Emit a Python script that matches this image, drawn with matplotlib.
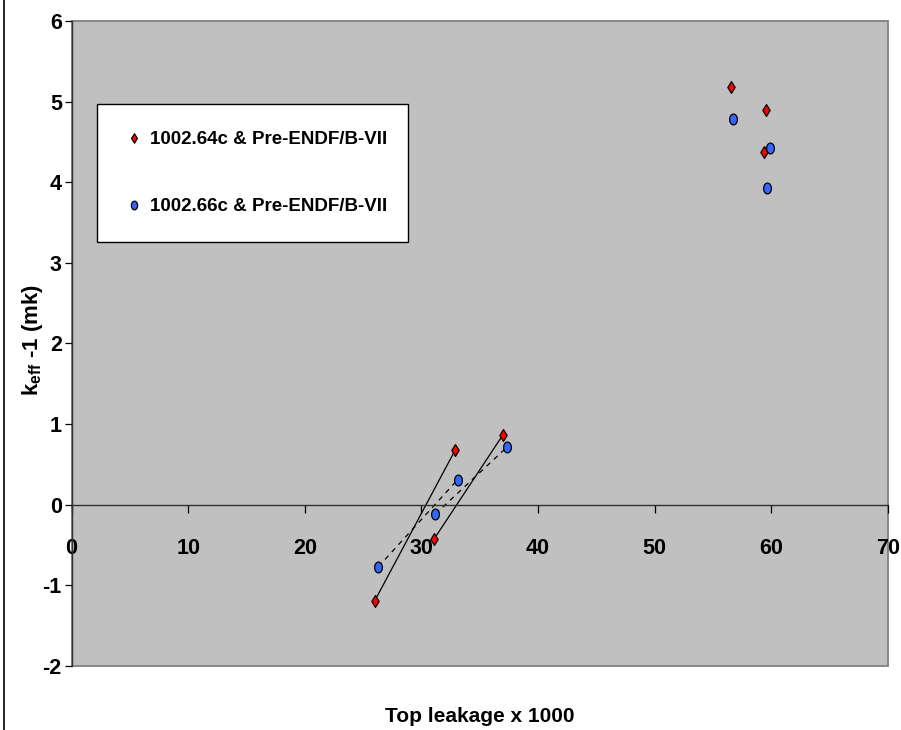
import matplotlib
matplotlib.use("Agg")
import matplotlib.pyplot as plt
from matplotlib.path import Path
from matplotlib.transforms import Affine2D
from matplotlib.patches import Rectangle
from matplotlib.lines import Line2D

plt.rcParams['font.family'] = ['Liberation Sans', 'DejaVu Sans']
plt.rcParams['font.weight'] = 'bold'
plt.rcParams['mathtext.fontset'] = 'custom'
plt.rcParams['mathtext.rm'] = 'Liberation Sans:bold'

# Data
x_red = [26.0, 31.06, 32.9, 37.0, 56.5, 59.5, 59.4]
y_red = [-1.19, -0.43, 0.68, 0.87, 5.18, 4.89, 4.38]
x_blue = [26.3, 31.2, 33.1, 37.3, 56.7, 59.9, 59.6]
y_blue = [-0.77, -0.115, 0.31, 0.71, 4.78, 4.42, 3.93]
line_pairs = [(0, 2), (1, 3)]
label_red = "1002.64c & Pre-ENDF/B-VII"
label_blue = "1002.66c & Pre-ENDF/B-VII"
x_ticks = [0, 10, 20, 30, 40, 50, 60, 70]
y_ticks = [-2, -1, 0, 1, 2, 3, 4, 5, 6]

diamond = Path([(0, 1), (0.62, 0), (0, -1), (-0.62, 0), (0, 1)],
               [Path.MOVETO, Path.LINETO, Path.LINETO, Path.LINETO, Path.CLOSEPOLY])
ellipse = Affine2D().scale(0.72, 1.0).transform_path(Path.unit_circle())

fig = plt.figure(figsize=(9.01, 7.30), dpi=100)
ax = fig.add_axes([0.0794, 0.0877, 0.9062, 0.8836])
ax.set_facecolor('#C0C0C0')

for a, b in line_pairs:
    ax.plot([x_red[a], x_red[b]], [y_red[a], y_red[b]], color='black', lw=0.9, zorder=2)
    ax.plot([x_blue[a], x_blue[b]], [y_blue[a], y_blue[b]], color='black', lw=0.9,
            dashes=(4, 4), zorder=2)

ax.plot(x_red, y_red, linestyle='none', marker=diamond, markersize=8.5,
        markerfacecolor='#FF0000', markeredgecolor='black', markeredgewidth=0.9,
        label=label_red, zorder=3)
ax.plot(x_blue, y_blue, linestyle='none', marker=ellipse, markersize=7.8,
        markerfacecolor='#3366FF', markeredgecolor='black', markeredgewidth=0.9,
        label=label_blue, zorder=3)

for s in ['top', 'right']:
    ax.spines[s].set_visible(False)
ax.spines['bottom'].set_position(('data', 0))
ax.spines['bottom'].set_color('#303030')
ax.spines['bottom'].set_linewidth(1.0)
ax.spines['left'].set_color('#303030')
ax.spines['left'].set_linewidth(1.0)
ax.add_patch(Rectangle((0, 0), 1, 1, transform=ax.transAxes, fill=False,
                       edgecolor='#808080', lw=1.3, clip_on=False, zorder=0.5))

ax.set_xlim(0, 70)
ax.set_ylim(-2, 6)
ax.set_xticks(x_ticks)
ax.set_yticks(y_ticks)
ax.set_xticklabels([str(v) for v in x_ticks])
ax.set_yticklabels([str(v) for v in y_ticks])

ax.tick_params(axis='x', direction='out', length=6, width=0.9, pad=18, colors='black',
               labelsize=15.5)
ax.tick_params(axis='y', direction='out', length=5, width=0.9, pad=2, colors='black',
               labelsize=15.5)
for t in ax.get_xticklabels() + ax.get_yticklabels():
    t.set_fontweight('bold')

ax.set_xlabel("Top leakage x 1000", fontsize=15, fontweight='bold', va='center')
ax.xaxis.set_label_coords(0.5, -0.079)
ax.set_ylabel(r"k$_{\mathrm{eff}}$ -1 (mk)", fontsize=16, fontweight='bold', va='center')
ax.yaxis.set_label_coords(-0.048, 0.505)

leg = ax.legend(loc='upper left', bbox_to_anchor=(0.0312, 0.660, 0.381, 0.211),
                mode='expand', fontsize=13.5, frameon=True, fancybox=False,
                edgecolor='black', facecolor='white', framealpha=1.0,
                handlelength=1.0, handletextpad=0.35, borderpad=1.45,
                labelspacing=2.65, markerscale=0.8, borderaxespad=0)
leg.get_frame().set_linewidth(1.0)
for t in leg.get_texts():
    t.set_fontweight('bold')

fig.add_artist(Line2D([3.5 / 901, 3.5 / 901], [0, 1], transform=fig.transFigure,
                      color='black', lw=1.2))

fig.savefig("out.png", dpi=100, facecolor='white')
